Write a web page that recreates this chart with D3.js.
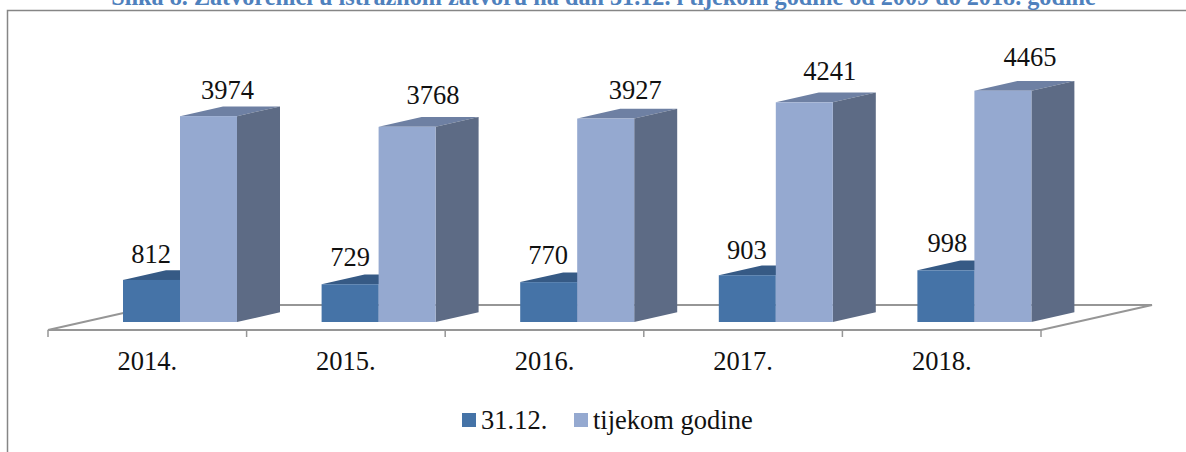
<!DOCTYPE html>
<html>
  <head>
    <meta charset="utf-8">
    <script src="https://d3js.org/d3.v7.min.js"></script>
    <style>
      html, body { margin: 0; padding: 0; background: #fff; overflow: hidden; }
      text { font-family: "Liberation Serif", serif; fill: #111; }
    </style>
  </head>
  <body>
    <div id="chartcontainer"></div>
    <script>
      var years = ["2014.", "2015.", "2016.", "2017.", "2018."];
      var seriesNames = ["31.12.", "tijekom godine"];
      var endOfYear = [812, 729, 770, 903, 998];
      var duringYear = [3974, 3768, 3927, 4241, 4465];
      var titleText = "Slika 8. Zatvorenici u istražnom zatvoru na dan 31.12. i tijekom godine od 2009 do 2018. godine";

      var width = 1186, height = 452;
      var baseY = 322, depthX = 43, depthY = 9.7, barW = 57;
      var axisY = 330, backY = 305, floorX = 111;
      var labelSize = "26.5px";

      // the labels sit a bit differently over each bar in the original
      var nudgeA = [[103, 17], [103.5, 18], [103, 18], [103, 16], [105, 18]];
      var nudgeB = [[179.5, 17], [186.5, 23], [190, 20], [186, 22], [187.5, 25]];

      var svg = d3.select("#chartcontainer").append("svg")
          .attr("width", width).attr("height", height).style("display", "block");

      // frame, only top and left show in the crop
      svg.append("path")
         .attr("d", "M7.5,452V10.5H1186")
         .attr("fill", "none").attr("stroke", "#868686").attr("stroke-width", 1.5);

      // title is cut by the top edge in the original as well
      svg.append("text")
         .attr("x", 603.5).attr("y", 5)
         .attr("text-anchor", "middle")
         .style("font-size", "24.2px").style("font-weight", "bold").style("fill", "#4f81bd")
         .text(titleText);

      var x = d3.scaleBand().domain(years).range([48, 1041]);
      var y = d3.scaleLinear().domain([0, 4465]).range([baseY, 90.7]);

      // floor of the 3d box
      var floor = d3.path();
      floor.moveTo(48, axisY);
      floor.lineTo(48 + floorX, backY);
      floor.lineTo(1041 + floorX, backY);
      floor.lineTo(1041, axisY);
      floor.closePath();
      svg.append("path").attr("d", floor.toString())
         .attr("fill", "none").attr("stroke", "#969696").attr("stroke-width", 2);

      svg.selectAll(".tick").data(d3.range(years.length + 1)).enter().append("line")
         .attr("class", "tick")
         .attr("x1", function(i) { return 48 + i * x.step(); })
         .attr("x2", function(i) { return 48 + i * x.step(); })
         .attr("y1", axisY).attr("y2", 337)
         .attr("stroke", "#969696").attr("stroke-width", 1.5);

      svg.selectAll(".yearLabel").data(years).enter().append("text")
         .attr("class", "yearLabel")
         .attr("x", function(d) { return x(d) + x.bandwidth() / 2; })
         .attr("y", 370)
         .attr("text-anchor", "middle")
         .style("font-size", labelSize)
         .text(function(d) { return d; });

      function drawBars(values, offset, front, top, side) {
        var g = svg.append("g");
        years.forEach(function(year, i) {
          var x0 = x(year) + 75 + offset;
          var x1 = x0 + barW;
          var yTop = y(values[i]);
          g.append("path")
           .attr("d", "M" + x0 + "," + yTop + "L" + (x0 + depthX) + "," + (yTop - depthY) +
                      "L" + (x1 + depthX) + "," + (yTop - depthY) + "L" + x1 + "," + yTop + "Z")
           .attr("fill", top);
          g.append("path")
           .attr("d", "M" + x1 + "," + yTop + "L" + (x1 + depthX) + "," + (yTop - depthY) +
                      "L" + (x1 + depthX) + "," + (baseY - depthY) + "L" + x1 + "," + baseY + "Z")
           .attr("fill", side);
          g.append("rect")
           .attr("x", x0).attr("y", yTop)
           .attr("width", barW).attr("height", baseY - yTop)
           .attr("fill", front);
        });
      }

      drawBars(endOfYear, 0, "#4573a7", "#365a85", "#365a85");
      drawBars(duringYear, barW, "#95a9d0", "#6e80a3", "#5d6b85");

      svg.selectAll(".labelA").data(years).enter().append("text")
         .attr("class", "labelA")
         .attr("x", function(d, i) { return x(d) + nudgeA[i][0]; })
         .attr("y", function(d, i) { return y(endOfYear[i]) - nudgeA[i][1]; })
         .attr("text-anchor", "middle")
         .style("font-size", labelSize)
         .text(function(d, i) { return endOfYear[i]; });

      svg.selectAll(".labelB").data(years).enter().append("text")
         .attr("class", "labelB")
         .attr("x", function(d, i) { return x(d) + nudgeB[i][0]; })
         .attr("y", function(d, i) { return y(duringYear[i]) - nudgeB[i][1]; })
         .attr("text-anchor", "middle")
         .style("font-size", labelSize)
         .text(function(d, i) { return duringYear[i]; });

      // legend
      var legendX = [462, 574];
      var legendColors = ["#4573a7", "#95a9d0"];
      seriesNames.forEach(function(name, i) {
        svg.append("rect")
           .attr("x", legendX[i]).attr("y", 413)
           .attr("width", 14).attr("height", 14)
           .attr("fill", legendColors[i]);
        svg.append("text")
           .attr("x", legendX[i] + 19).attr("y", 428.5)
           .style("font-size", labelSize)
           .text(name);
      });
    </script>
  </body>
</html>
